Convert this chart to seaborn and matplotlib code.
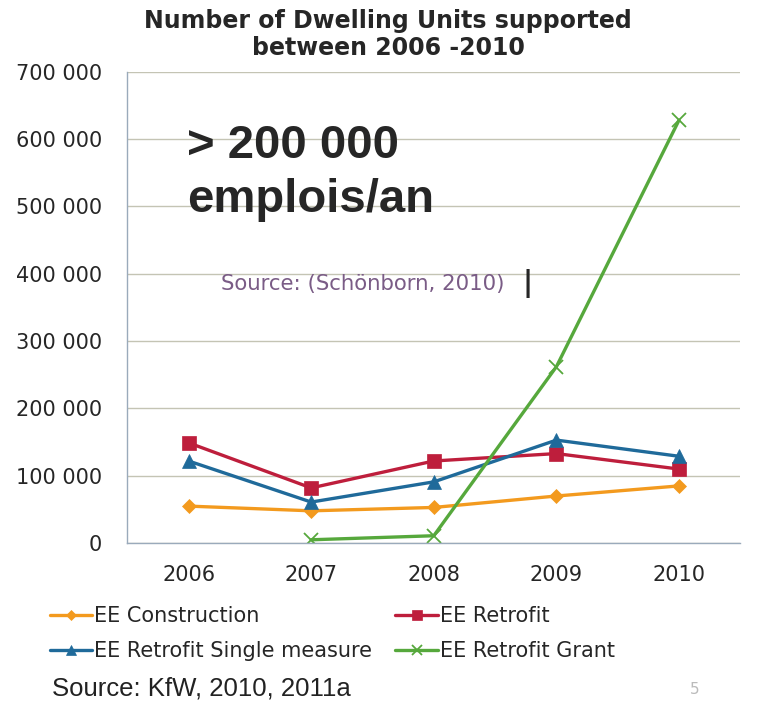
import numpy as np
import pandas as pd
import matplotlib
matplotlib.use("Agg")
import matplotlib.pyplot as plt
import seaborn as sns
from matplotlib.ticker import FuncFormatter

# data
years = ["2006", "2007", "2008", "2009", "2010"]
ee_construction = [55000, 48000, 53000, 70000, 85000]
ee_retrofit = [149000, 82000, 122000, 133000, 110000]
ee_single = [122000, 61000, 91000, 153000, 129000]
ee_grant = [np.nan, 5000, 11000, 262000, 628000]

series_names = ["EE Construction", "EE Retrofit", "EE Retrofit Single measure", "EE Retrofit Grant"]
series_vals = [ee_construction, ee_retrofit, ee_single, ee_grant]
colors = ["#F39A1E", "#BE1E3C", "#1F6A9A", "#56A83C"]
markers = ["D", "s", "^", "x"]
msizes = [7, 10, 10, 10]

rows = []
for name, vals in zip(series_names, series_vals):
    for i, v in enumerate(vals):
        rows.append({"serie": name, "x": i, "val": v})
df = pd.DataFrame(rows)

sns.set_style("white")
plt.rcParams["font.family"] = ["DejaVu Sans"]

fig = plt.figure(figsize=(7.76, 7.10), dpi=100)
ax = fig.add_axes([0.164, 0.235, 0.79, 0.664])

for name, c, m, ms in zip(series_names, colors, markers, msizes):
    sub = df[df["serie"] == name].dropna()
    sns.lineplot(data=sub, x="x", y="val", ax=ax, color=c, marker=m,
                 markersize=ms, linewidth=2.4, label=name,
                 markeredgecolor=c, markeredgewidth=1.3 if m == "x" else 0.5)

ax.set_xlim(-0.5, 4.5)
ax.set_ylim(0, 700000)
ax.set_yticks(np.arange(0, 700001, 100000))
ax.yaxis.set_major_formatter(FuncFormatter(lambda v, p: f"{int(v):,}".replace(",", " ")))
ax.set_xticks(range(len(years)))
ax.set_xticklabels(years)
ax.set_xticks(np.arange(-0.5, 4.6, 1), minor=True)
ax.tick_params(axis="x", which="major", length=0, pad=16, labelsize=15, labelcolor="#262626")
ax.tick_params(axis="x", which="minor", length=8, direction="out", color="#9aaabb")
ax.tick_params(axis="y", length=6, direction="out", color="#9aaabb", labelsize=15, pad=12,
               labelcolor="#262626")
ax.set_xlabel("")
ax.set_ylabel("")
ax.grid(axis="y", color="#c4c4b4", linewidth=1)
ax.set_axisbelow(True)
for s in ["top", "right"]:
    ax.spines[s].set_visible(False)
for s in ["left", "bottom"]:
    ax.spines[s].set_color("#9aaabb")
    ax.spines[s].set_linewidth(1)

fig.text(0.5, 0.988, "Number of Dwelling Units supported\nbetween 2006 -2010",
         ha="center", va="top", fontsize=17, fontweight="bold", linespacing=1.2)

ax.text(0.098, 0.89, "> 200 000\nemplois/an", transform=ax.transAxes, ha="left", va="top",
        fontsize=34, fontweight="bold", family=["Liberation Sans"], linespacing=1.3)
ax.text(0.153, 0.55, "Source: (Schönborn, 2010)", transform=ax.transAxes, ha="left",
        va="center", fontsize=15.3, color="#7a5c86")
ax.text(0.645, 0.55, "|", transform=ax.transAxes, ha="left", va="center",
        fontsize=20, fontweight="bold")

h, l = ax.get_legend_handles_labels()
order = [0, 2, 1, 3]
ax.legend([h[i] for i in order], [l[i] for i in order], loc="upper left",
          bbox_to_anchor=(0.064, 0.146), bbox_transform=fig.transFigure, ncol=2,
          frameon=False, fontsize=15, handlelength=2.05, handletextpad=0.1,
          columnspacing=1.1, labelspacing=0.7, markerscale=0.75,
          borderpad=0, borderaxespad=0)

fig.text(0.067, 0.02, "Source: KfW, 2010, 2011a", fontsize=18.5,
         family=["Liberation Sans"], color="#222222")
fig.text(0.889, 0.022, "5", fontsize=11, color="#bbbbbb")

plt.savefig("out.png", dpi=100)
